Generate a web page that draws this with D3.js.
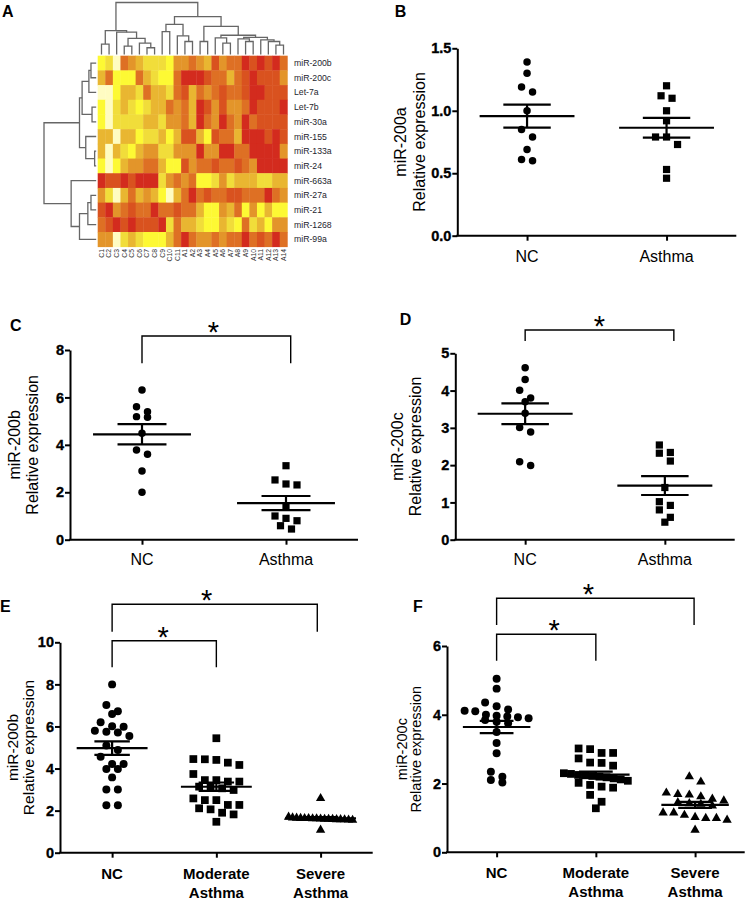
<!DOCTYPE html>
<html><head><meta charset="utf-8">
<script src="https://cdn.jsdelivr.net/npm/d3@7"></script>
<style>body{margin:0;background:#fff}svg{display:block}text{font-family:"Liberation Sans",Arial,Helvetica,sans-serif}</style>
</head><body><svg id="c" width="747" height="900"></svg>
<script>
// ---------------- DATA ----------------
const rowLabels = ["miR-200b","miR-200c","Let-7a","Let-7b","miR-30a","miR-155","miR-133a","miR-24","miR-663a","miR-27a","miR-21","miR-1268","miR-99a"];
const colLabels = ["C1","C2","C3","C4","C5","C6","C7","C8","C9","C10","C11","A1","A2","A3","A4","A5","A6","A7","A8","A9","A10","A11","A12","A13","A14"];
// expression level (0 = lowest / pale yellow ... 7 = highest / red)
const heatValues = [
 [1,2,0,5,4,3,2,2,2,1,4,4,5,4,3,6,4,5,5,7,6,7,6,7,5],
 [3,5,1,1,1,5,3,2,1,1,5,7,7,7,6,5,5,3,5,6,7,6,6,6,4],
 [0,0,1,3,3,2,5,3,3,2,5,6,3,5,4,5,6,5,5,6,7,7,6,6,6],
 [1,0,2,3,2,1,2,3,3,5,4,5,3,7,6,4,6,4,4,5,7,6,6,6,7],
 [1,0,2,2,2,2,3,3,2,4,4,5,3,7,5,4,7,5,4,7,5,6,6,6,6],
 [3,3,0,3,3,1,2,2,3,1,3,6,6,3,1,6,5,5,3,7,7,7,6,7,6],
 [3,0,3,2,1,3,4,4,2,2,4,4,4,7,4,4,7,7,5,5,7,7,7,7,4],
 [1,0,1,3,4,4,5,5,3,1,1,6,4,5,5,6,5,5,6,5,4,7,7,7,7],
 [7,6,6,7,6,7,7,7,2,4,5,4,5,1,1,2,4,2,3,3,3,2,2,3,3],
 [4,2,0,3,5,3,4,3,1,0,3,5,7,5,6,5,5,6,6,5,5,5,7,5,4],
 [6,7,4,5,6,5,5,7,5,5,6,5,5,3,1,1,4,3,5,1,4,1,3,1,1],
 [5,6,7,6,7,6,6,6,7,2,5,3,3,2,1,1,3,2,1,5,2,3,1,4,4],
 [4,4,0,2,3,2,1,1,1,3,5,7,5,4,4,5,4,5,5,7,5,6,5,7,5]
];
// dendrograms: [height, left, right], leaves are indices
const colTree = [1.0,
  [0.46, [0.20,0,1], [0.43,2,[0.31,[0.16,3,4],[0.22,5,[0.13,6,7]]]]],
  [0.73, [0.58,[0.44,8,9],[0.36,10,[0.25,11,12]]],
         [0.54,[0.25,13,14],[0.37,[0.32,15,[0.22,16,17]],[0.33,[0.30,18,[0.25,19,20]],[0.28,21,[0.25,22,[0.18,23,24]]]]]]]];
const rowTree = [1.0,
  [0.32, [0.27,[0.14,[0.10,0,1],2],[0.08,3,4]], [0.20,5,[0.03,6,7]]],
  [0.48, 8, [0.32,[0.16,[0.10,9,10],11],12]]];

const cats2 = ["NC","Asthma"];
const cats3 = ["NC","Moderate Asthma","Severe Asthma"];
const ticksB = [0,0.5,1.0,1.5];
const ticksC = [0,2,4,6,8];
const ticksD = [0,1,2,3,4,5];
const ticksE = [0,2,4,6,8,10];
const ticksF = [0,2,4,6];

const bNC = [1.39,1.30,1.19,1.15,1.00,0.85,0.79,0.69,0.61,0.60];
const bAsthma = [1.20,1.12,1.10,1.00,0.92,0.79,0.79,0.73,0.53,0.46];
const cNC = [6.31,5.61,5.40,5.19,5.16,4.49,3.78,3.60,2.90,2.00];
const cAsthma = [3.12,2.52,2.35,2.31,1.39,1.00,0.90,0.80,0.59,0.45];
const dNC = [4.61,4.30,4.01,3.80,3.70,3.39,3.01,2.89,2.09,1.99];
const dAsthma = [2.54,2.34,2.32,2.11,1.40,1.02,0.92,0.80,0.60,0.47];
const eNC = [8.00,7.02,6.72,6.59,6.20,6.01,5.99,5.80,5.75,5.71,5.55,5.10,4.88,4.56,4.22,4.22,3.98,3.98,3.58,3.00,3.00,2.25,2.25];
const eModerate = [5.44,4.45,4.44,4.41,4.28,4.17,3.74,3.45,3.45,3.38,3.38,3.14,3.14,3.06,2.98,2.58,2.50,2.50,2.27,2.27,2.11,2.06,1.90,1.82,1.47];
const eSevere = [2.58,1.70,1.66,1.65,1.64,1.63,1.63,1.62,1.62,1.61,1.60,1.60,1.59,1.58,1.58,1.57,1.56,1.55,1.08];
const fNC = [5.05,4.76,4.36,4.25,4.15,4.12,4.10,4.00,3.97,3.95,3.93,3.90,3.85,3.80,3.75,3.50,3.18,2.88,2.34,2.20,2.10,2.03];
const fModerate = [3.02,3.00,2.89,2.89,2.73,2.61,2.60,2.52,2.30,2.28,2.25,2.24,2.22,2.20,2.18,2.15,2.12,2.08,2.02,1.96,1.91,1.88,1.67,1.47,1.28];
const fSevere = [2.20,2.05,1.73,1.69,1.67,1.62,1.55,1.50,1.45,1.42,1.40,1.35,1.15,1.15,1.08,1.02,0.99,0.99,0.94,0.65];

// ---------------- DRAWING ----------------
const svg = d3.select("#c");

// ===== Panel A: heatmap =====
const hx = d3.scaleBand().domain(colLabels).range([97.7, 287.3]);
const hy = d3.scaleBand().domain(rowLabels).range([55.7, 246.7]);
const heatColor = d3.scaleLinear().domain([0,1,2,3,4,5,6,7])
  .range(["#fffcc2","#fdf934","#f1dd3a","#e9b631","#e3952a","#de7024","#d9521f","#d32b1e"]);
const gA = svg.append("g");
heatValues.forEach((row, ri) => {
  gA.selectAll(null).data(row).join("rect")
    .attr("x", (d,ci) => hx(colLabels[ci]))
    .attr("y", hy(rowLabels[ri]))
    .attr("width", hx.bandwidth() + 0.4)
    .attr("height", hy.bandwidth() + 0.4)
    .attr("fill", d => heatColor(d));
});
gA.selectAll(".rl").data(rowLabels).join("text")
  .attr("x", 294).attr("y", d => hy(d) + hy.bandwidth()/2 + 3)
  .attr("font-size", 8.7).attr("fill", "#1e1e2e").text(d => d);
gA.selectAll(".cl").data(colLabels).join("text")
  .attr("transform", d => `translate(${hx(d) + hx.bandwidth()/2 + 2.4},249) rotate(-90)`)
  .attr("text-anchor", "end").attr("font-size", 6.8).attr("fill", "#333").text(d => d);

const colH = d3.scaleLinear().domain([0,1]).range([54.5, 2.5]);
const rowH = d3.scaleLinear().domain([0,1]).range([96.2, 44]);
function drawTree(node, pos, hScale, vertical, g) {
  if (typeof node === "number") return {p: pos(node), h: 0};
  const [h, l, r] = node;
  const a = drawTree(l, pos, hScale, vertical, g);
  const b = drawTree(r, pos, hScale, vertical, g);
  const path = vertical
    ? `M${a.p},${hScale(a.h)}V${hScale(h)}H${b.p}V${hScale(b.h)}`
    : `M${hScale(a.h)},${a.p}H${hScale(h)}V${b.p}H${hScale(b.h)}`;
  g.append("path").attr("d", path).attr("fill","none").attr("stroke","#666").attr("stroke-width",1.3);
  return {p: (a.p + b.p)/2, h};
}
drawTree(colTree, i => hx(colLabels[i]) + hx.bandwidth()/2, colH, true, gA);
drawTree(rowTree, i => hy(rowLabels[i]) + hy.bandwidth()/2, rowH, false, gA);
gA.append("text").attr("x", 2).attr("y", 17).attr("font-size", 16).attr("font-weight","bold").text("A");

// ===== Scatter panels =====
function symbolPath(shape, size) {
  const t = shape === "circle" ? d3.symbolCircle : shape === "square" ? d3.symbolSquare : d3.symbolTriangle;
  return d3.symbol().type(t).size(size)();
}
function spread(vals, y, binH, sp, maxW) {
  const items = vals.map(v => ({v, y: y(v), dx: 0})).sort((a,b) => a.y - b.y);
  let i = 0;
  while (i < items.length) {
    let j = i;
    while (j + 1 < items.length && items[j+1].y - items[i].y < binH) j++;
    const n = j - i + 1;
    const s = n > 1 ? Math.min(sp, maxW/(n-1)) : 0;
    for (let k = 0; k < n; k++) items[i+k].dx = (k - (n-1)/2) * s;
    i = j + 1;
  }
  return items;
}

function drawPanel(p) {
  const g = svg.append("g");
  const y = d3.scaleLinear().domain(p.domain).range([p.yb, p.yt]);
  const x = d3.scalePoint().domain(p.cats).range([p.x0, p.x1]).padding(0.5);
  const step = x.step();

  const ya = g.append("g").attr("transform", `translate(${p.x0},0)`)
    .call(d3.axisLeft(y).tickValues(p.ticks).tickSize(5).tickSizeOuter(0).tickPadding(1).tickFormat(d3.format(p.fmt)));
  ya.attr("font-family", null).attr("font-size", null);
  ya.select(".domain").attr("stroke-width", 2).attr("stroke", "#000");
  ya.selectAll(".tick line").attr("stroke-width", 2).attr("stroke", "#000");
  ya.selectAll(".tick text")
    .style("font-family", '"Liberation Sans",Arial,sans-serif')
    .style("font-weight", "700").style("font-size", "14.5px").attr("fill", "#000")
    .attr("stroke", "#000").attr("stroke-width", 0.35);
  const xa = g.append("g").attr("transform", `translate(0,${p.yb})`)
    .call(d3.axisBottom(x).tickSize(5).tickSizeOuter(0).tickFormat(""));
  xa.select(".domain").attr("stroke-width", 2).attr("stroke", "#000").attr("d", `M${p.x0-1},0H${p.x1}`);
  xa.selectAll(".tick line").attr("stroke-width", 2).attr("stroke", "#000");

  p.cats.forEach(c => {
    const lines = c === "NC" ? ["NC"] : (p.cats.length > 2 ? c.split(" ") : [c]);
    lines.forEach((ln, li) => {
      g.append("text").attr("x", x(c)).attr("y", p.catY + li * p.catLH)
        .attr("text-anchor", "middle").attr("font-size", p.catSize)
        .attr("font-weight", p.catBold ? "bold" : "normal").text(ln);
    });
  });

  const cy = (p.yb + p.yt) / 2;
  p.title.forEach((t, i) => {
    g.append("text").attr("transform", `translate(${p.titleX[i] + p.titleSize*0.32},${cy}) rotate(-90)`)
      .attr("text-anchor", "middle").attr("font-size", p.titleSize).text(t);
  });

  p.groups.forEach((vals, gi) => {
    const cx = x(p.cats[gi]);
    const items = spread(vals, y, p.binH, p.sp, p.maxW);
    g.selectAll(null).data(items).join("path")
      .attr("d", symbolPath(p.shapes[gi], p.symSize[gi]))
      .attr("transform", d => `translate(${cx + d.dx},${d.y})`)
      .attr("fill", "#000");
    const m = d3.mean(vals), sem = d3.deviation(vals) / Math.sqrt(vals.length);
    const mw = step * 0.34, sw = step * 0.17;
    const lines = [
      [cx - mw, y(m), cx + mw, y(m)],
      [cx - sw, y(m + sem), cx + sw, y(m + sem)],
      [cx - sw, y(m - sem), cx + sw, y(m - sem)],
      [cx, y(m + sem), cx, y(m - sem)]
    ];
    g.selectAll(null).data(lines).join("line")
      .attr("x1", d => d[0]).attr("y1", d => d[1]).attr("x2", d => d[2]).attr("y2", d => d[3])
      .attr("stroke", "#000").attr("stroke-width", 2.2);
  });

  p.brackets.forEach(b => {
    const xa0 = x(p.cats[b.a]), xb0 = x(p.cats[b.b]) + b.dx;
    g.append("path").attr("d", `M${xa0},${b.drop}V${b.y}H${xb0}V${b.drop}`)
      .attr("fill", "none").attr("stroke", "#000").attr("stroke-width", 1.4);
    g.append("text").attr("x", (xa0 + xb0)/2 + b.sx).attr("y", b.y + 6)
      .attr("text-anchor", "middle").attr("font-size", 29).text("*");
  });

  g.append("text").attr("x", p.letter[0]).attr("y", p.letter[1]).attr("font-size", 16)
    .attr("font-weight", "bold").text(p.name);
}

const two = {binH: 8, sp: 11, maxW: 60, catSize: 16, catBold: false, catLH: 19, titleSize: 16};
drawPanel(Object.assign({}, two, {name:"B", letter:[394.7,16.7], x0:457.3, x1:736.3, yb:235.7, yt:48.3,
  domain:[0,1.5], ticks:ticksB, fmt:".1f", cats:cats2, groups:[bNC,bAsthma], shapes:["circle","square"], symSize:[44,52],
  title:["miR-200a","Relative expression"], titleX:[401.3,419.7], catY:261.7, brackets:[]}));
drawPanel(Object.assign({}, two, {name:"C", letter:[10,330.7], x0:70, x1:358, yb:539.7, yt:350,
  domain:[0,8], ticks:ticksC, fmt:"d", cats:cats2, groups:[cNC,cAsthma], shapes:["circle","square"], symSize:[44,52],
  title:["miR-200b","Relative expression"], titleX:[15,33.3], catY:565,
  brackets:[{a:0,b:1,y:336,drop:363.3,dx:4.7,sx:-3}]}));
drawPanel(Object.assign({}, two, {name:"D", letter:[399.7,325], x0:455.3, x1:734.7, yb:539.7, yt:353.3,
  domain:[0,5], ticks:ticksD, fmt:"d", cats:cats2, groups:[dNC,dAsthma], shapes:["circle","square"], symSize:[44,52],
  title:["miR-200c","Relative expression"], titleX:[398,416.3], catY:565,
  brackets:[{a:0,b:1,y:330,drop:341,dx:9,sx:0}]}));
const three = {binH: 8, sp: 11.5, maxW: 64, catSize: 15, catBold: true, catLH: 19};
drawPanel(Object.assign({}, three, {name:"E", letter:[0,611.7], x0:60, x1:372.7, yb:852.7, yt:642.3,
  domain:[0,10], ticks:ticksE, fmt:"d", cats:cats3, groups:[eNC,eModerate,eSevere], shapes:["circle","square","triangle"], symSize:[50,60,38],
  title:["miR-200b","Relative expression"], titleX:[13.3,29.3], titleSize:15.5, catY:879.3,
  brackets:[{a:0,b:2,y:604.3,drop:631.7,dx:-3.3,sx:-8},{a:0,b:1,y:640.7,drop:667.3,dx:0,sx:-1}]}));
drawPanel(Object.assign({}, three, {name:"F", letter:[413,611.7], x0:447, x1:744.7, yb:852.3, yt:646,
  domain:[0,6], ticks:ticksF, fmt:"d", cats:cats3, groups:[fNC,fModerate,fSevere], shapes:["circle","square","triangle"], symSize:[50,60,38],
  title:["miR-200c","Relative expression"], titleX:[402,416.3], titleSize:14.5, catY:878.3, catLH:18.4,
  brackets:[{a:0,b:2,y:598.3,drop:625,dx:-1,sx:-7},{a:0,b:1,y:634.3,drop:660.7,dx:0,sx:8}]}));
</script></body></html>
